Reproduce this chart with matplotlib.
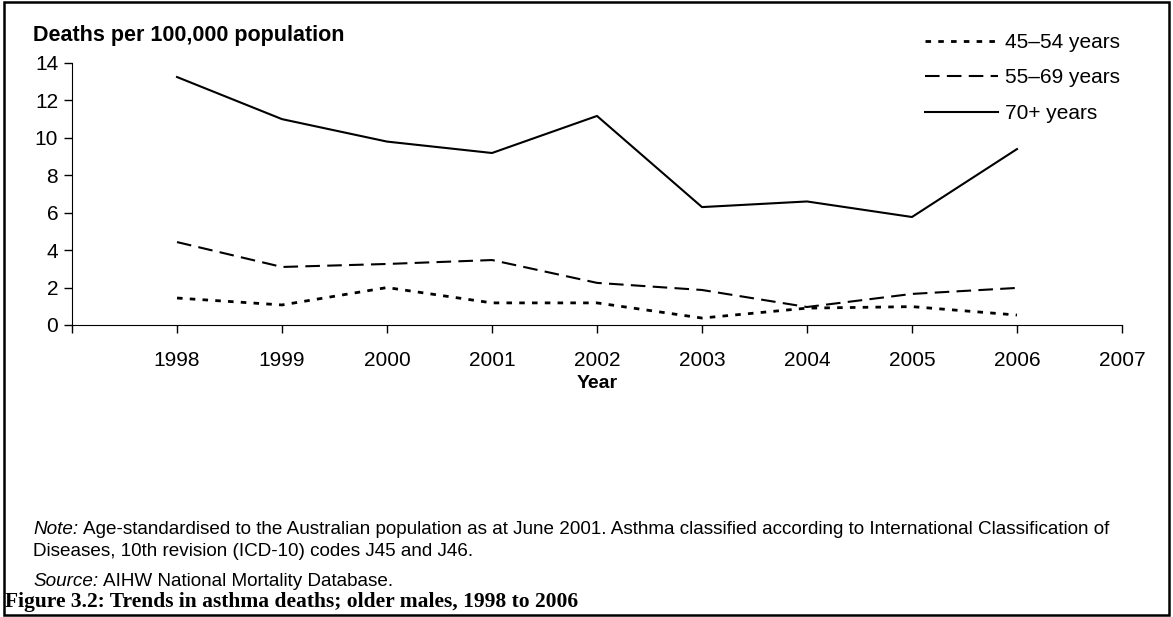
import matplotlib.pyplot as plt
from matplotlib.patches import Rectangle

plt.rcParams['font.family'] = ['Liberation Sans', 'DejaVu Sans']

years = [1998, 1999, 2000, 2001, 2002, 2003, 2004, 2005, 2006]
age_45_54 = [1.44, 1.07, 2.0, 1.18, 1.18, 0.37, 0.9, 0.98, 0.53]
age_55_69 = [4.43, 3.1, 3.26, 3.47, 2.25, 1.87, 0.96, 1.66, 1.98]
age_70_plus = [13.25, 11.0, 9.8, 9.19, 11.17, 6.3, 6.6, 5.77, 9.4]
tick_years = list(range(1997, 2008))

fig = plt.figure(figsize=(11.73, 6.17), dpi=100)
ax = fig.add_axes([0.0614, 0.4733, 0.8951, 0.4246])

ax.plot(years, age_45_54, color="black", lw=2.0, linestyle=(0, (2.0, 2.6)), label="45–54 years")
ax.plot(years, age_55_69, color="black", lw=1.5, linestyle=(0, (7, 3.5)), label="55–69 years")
ax.plot(years, age_70_plus, color="black", lw=1.5, linestyle="-", label="70+ years")

ax.set_xlim(1997, 2007)
ax.set_ylim(0, 14)
ax.set_yticks(range(0, 15, 2))
ax.set_xticks(tick_years)
ax.set_xticklabels([""] + [str(y) for y in tick_years[1:]])
ax.tick_params(labelsize=15, length=6, width=1, direction="out", pad=13)
ax.tick_params(axis="y", pad=4)
ax.spines["top"].set_visible(False)
ax.spines["right"].set_visible(False)
ax.set_xlabel("Year", fontsize=14, fontweight="bold", labelpad=3)

fig.text(0.028, 1 - 36 / 617, "Deaths per 100,000 population", fontsize=15.5, fontweight="bold", va="center")

ax.legend(loc="upper right", bbox_to_anchor=(1.008, 1.155), frameon=False, fontsize=15,
          borderpad=0, handlelength=3.5, handletextpad=0.35, labelspacing=0.8)

fig.canvas.draw()
renderer = fig.canvas.get_renderer()


def lead_and_text(y, lead, rest, size=13.6):
    # italic lead word followed by normal text
    t = fig.text(0.0285, y, lead, fontsize=size, style="italic", va="center")
    x1 = t.get_window_extent(renderer).x1
    fig.text(x1 / fig.bbox.width + 0.004, y, rest, fontsize=size, va="center")


lead_and_text(1 - 530 / 617, "Note:",
              "Age-standardised to the Australian population as at June 2001. Asthma classified according to International Classification of")
fig.text(0.0285, 1 - 551 / 617, "Diseases, 10th revision (ICD-10) codes J45 and J46.", fontsize=13.6, va="center")
lead_and_text(1 - 581 / 617, "Source:", "AIHW National Mortality Database.")

fig.text(0.004, 1 - 602 / 617, "Figure 3.2: Trends in asthma deaths; older males, 1998 to 2006",
         fontsize=15.5, fontweight="bold", family=["Liberation Serif", "DejaVu Serif"], va="center")

fig.patches.append(Rectangle((0.003, 0.004), 0.994, 0.993, transform=fig.transFigure,
                             fill=False, edgecolor="black", lw=1.8))

fig.savefig("out.png", dpi=100)
